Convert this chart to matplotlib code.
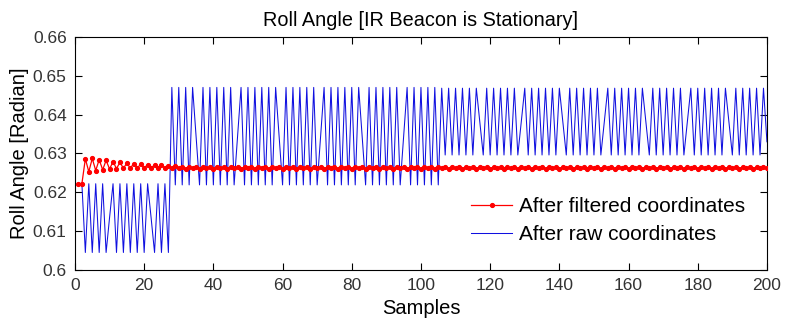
import numpy as np
import matplotlib.pyplot as plt

# sample index (1..200)
samples = np.arange(1, 201)

# roll angle computed from raw IR coordinates (blue)
raw_roll = [
    0.6222, 0.6222, 0.6045, 0.6222, 0.6045, 0.6222, 0.6045, 0.6222, 0.6045, 0.6135,
    0.6222, 0.6045, 0.6222, 0.6045, 0.6222, 0.6045, 0.6222, 0.6045, 0.6222, 0.6045,
    0.6222, 0.6135, 0.6045, 0.6222, 0.6045, 0.6222, 0.6045, 0.6470, 0.6219, 0.6470,
    0.6219, 0.6470, 0.6219, 0.6470, 0.6345, 0.6219, 0.6470, 0.6219, 0.6470, 0.6219,
    0.6470, 0.6219, 0.6470, 0.6219, 0.6470, 0.6219, 0.6345, 0.6470, 0.6219, 0.6470,
    0.6219, 0.6470, 0.6219, 0.6470, 0.6219, 0.6470, 0.6219, 0.6470, 0.6345, 0.6219,
    0.6470, 0.6219, 0.6470, 0.6219, 0.6470, 0.6219, 0.6470, 0.6219, 0.6470, 0.6219,
    0.6345, 0.6470, 0.6219, 0.6470, 0.6219, 0.6470, 0.6219, 0.6470, 0.6219, 0.6470,
    0.6219, 0.6470, 0.6345, 0.6219, 0.6470, 0.6219, 0.6470, 0.6219, 0.6470, 0.6219,
    0.6470, 0.6219, 0.6470, 0.6219, 0.6345, 0.6470, 0.6219, 0.6470, 0.6219, 0.6470,
    0.6219, 0.6470, 0.6219, 0.6470, 0.6219, 0.6468, 0.6296, 0.6468, 0.6296, 0.6468,
    0.6296, 0.6468, 0.6296, 0.6468, 0.6296, 0.6468, 0.6382, 0.6296, 0.6468, 0.6296,
    0.6468, 0.6296, 0.6468, 0.6296, 0.6468, 0.6296, 0.6468, 0.6296, 0.6382, 0.6468,
    0.6296, 0.6468, 0.6296, 0.6468, 0.6296, 0.6468, 0.6296, 0.6468, 0.6296, 0.6468,
    0.6382, 0.6296, 0.6468, 0.6296, 0.6468, 0.6296, 0.6468, 0.6296, 0.6468, 0.6296,
    0.6468, 0.6296, 0.6382, 0.6468, 0.6296, 0.6468, 0.6296, 0.6468, 0.6296, 0.6468,
    0.6296, 0.6468, 0.6296, 0.6468, 0.6382, 0.6296, 0.6468, 0.6296, 0.6468, 0.6296,
    0.6468, 0.6296, 0.6468, 0.6296, 0.6468, 0.6296, 0.6382, 0.6468, 0.6296, 0.6468,
    0.6296, 0.6468, 0.6296, 0.6468, 0.6296, 0.6468, 0.6296, 0.6468, 0.6382, 0.6296,
    0.6468, 0.6296, 0.6468, 0.6296, 0.6468, 0.6296, 0.6468, 0.6296, 0.6468, 0.6330,
]

# roll angle computed from filtered coordinates (red)
filtered_roll = [
    0.6222, 0.6222, 0.6286, 0.6253, 0.6287, 0.6256, 0.6284, 0.6258, 0.6282, 0.6260,
    0.6279, 0.6261, 0.6277, 0.6262, 0.6275, 0.6262, 0.6274, 0.6263, 0.6272, 0.6263,
    0.6271, 0.6263, 0.6270, 0.6263, 0.6269, 0.6263, 0.6268, 0.6262, 0.6267, 0.6262,
    0.6266, 0.6261, 0.6266, 0.6262, 0.6265, 0.6261, 0.6265, 0.6262, 0.6265, 0.6261,
    0.6265, 0.6262, 0.6265, 0.6261, 0.6265, 0.6262, 0.6265, 0.6261, 0.6265, 0.6262,
    0.6265, 0.6261, 0.6265, 0.6262, 0.6265, 0.6261, 0.6265, 0.6262, 0.6265, 0.6261,
    0.6265, 0.6262, 0.6265, 0.6261, 0.6265, 0.6262, 0.6265, 0.6261, 0.6265, 0.6262,
    0.6265, 0.6261, 0.6265, 0.6262, 0.6265, 0.6261, 0.6265, 0.6262, 0.6265, 0.6261,
    0.6265, 0.6262, 0.6265, 0.6261, 0.6265, 0.6262, 0.6265, 0.6261, 0.6265, 0.6262,
    0.6265, 0.6261, 0.6265, 0.6262, 0.6265, 0.6261, 0.6265, 0.6262, 0.6265, 0.6261,
    0.6265, 0.6262, 0.6265, 0.6261, 0.6265, 0.6262, 0.6265, 0.6261, 0.6265, 0.6262,
    0.6265, 0.6261, 0.6265, 0.6262, 0.6265, 0.6261, 0.6265, 0.6262, 0.6265, 0.6261,
    0.6265, 0.6262, 0.6265, 0.6261, 0.6265, 0.6262, 0.6265, 0.6261, 0.6265, 0.6262,
    0.6265, 0.6261, 0.6265, 0.6262, 0.6265, 0.6261, 0.6265, 0.6262, 0.6265, 0.6261,
    0.6265, 0.6262, 0.6265, 0.6261, 0.6265, 0.6262, 0.6265, 0.6261, 0.6265, 0.6262,
    0.6265, 0.6261, 0.6265, 0.6262, 0.6265, 0.6261, 0.6265, 0.6262, 0.6265, 0.6261,
    0.6265, 0.6262, 0.6265, 0.6261, 0.6265, 0.6262, 0.6265, 0.6261, 0.6265, 0.6262,
    0.6265, 0.6261, 0.6265, 0.6262, 0.6265, 0.6261, 0.6265, 0.6262, 0.6265, 0.6261,
    0.6265, 0.6262, 0.6265, 0.6261, 0.6265, 0.6262, 0.6265, 0.6261, 0.6265, 0.6262,
    0.6265, 0.6261, 0.6265, 0.6262, 0.6265, 0.6261, 0.6265, 0.6262, 0.6265, 0.6263,
]

x_ticks = list(range(0, 201, 20))
y_ticks = [0.60, 0.61, 0.62, 0.63, 0.64, 0.65, 0.66]
y_tick_labels = ['0.6', '0.61', '0.62', '0.63', '0.64', '0.65', '0.66']

plt.rcParams['font.family'] = ['Liberation Sans', 'DejaVu Sans']

fig = plt.figure(figsize=(7.85, 3.21), dpi=100)
ax = fig.add_axes([0.0955, 0.159, 0.8815, 0.726])

ax.plot(samples, raw_roll, color='#1010e0', lw=0.75, label='After raw coordinates', zorder=2)
ax.plot(samples, filtered_roll, color='#ff0000', lw=0.9, marker='.', markersize=5.5,
        label='After filtered coordinates', zorder=3)

ax.set_xlim(0, 200)
ax.set_ylim(0.60, 0.66)
ax.set_xticks(x_ticks)
ax.set_yticks(y_ticks)
ax.set_yticklabels(y_tick_labels)
ax.tick_params(direction='in', length=5, width=0.8, top=True, right=True,
               labelsize=12.5, labelcolor='#333333')
ax.tick_params(axis='x', pad=6)
ax.tick_params(axis='y', pad=6)
for s in ax.spines.values():
    s.set_linewidth(0.8)

ax.set_title('Roll Angle [IR Beacon is Stationary]', fontsize=14.3, pad=8)
ax.set_xlabel('Samples', fontsize=14.5, labelpad=4)
ax.set_ylabel('Roll Angle [Radian]', fontsize=14.5, labelpad=3)

handles, labels = ax.get_legend_handles_labels()
ax.legend(handles[::-1], labels[::-1], loc='lower right', frameon=False, fontsize=15,
          handlelength=2.0, handletextpad=0.3, labelspacing=0.45,
          bbox_to_anchor=(0.995, 0.03))

fig.savefig('out.png', dpi=100)
